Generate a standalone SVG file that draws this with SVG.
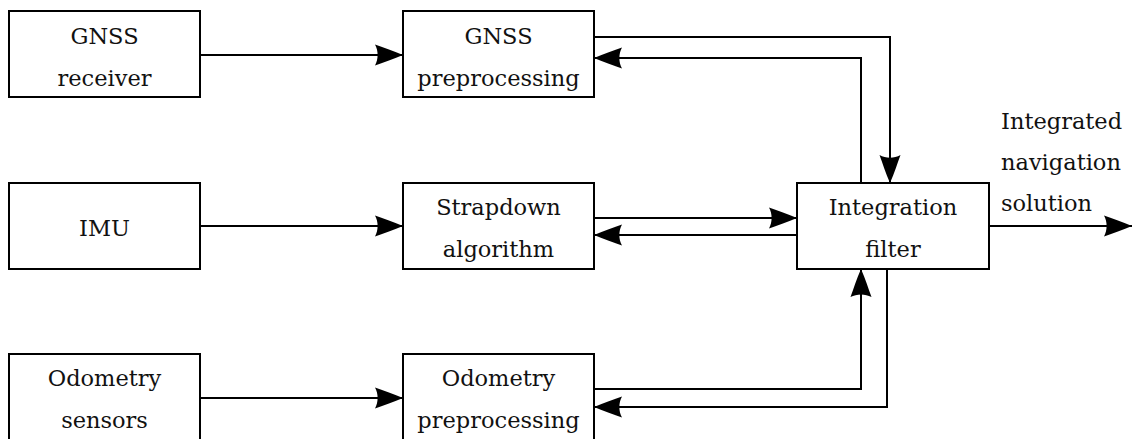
<svg xmlns="http://www.w3.org/2000/svg" width="1132" height="439" viewBox="0 0 1132 439">
<style>
.box{fill:#fff;stroke:#000;stroke-width:2}
.t{font-family:"DejaVu Serif","Liberation Serif",serif;font-size:22.5px;fill:#111;text-anchor:middle}
.ts{font-family:"DejaVu Serif","Liberation Serif",serif;font-size:22.5px;fill:#111}
.c{fill:none;stroke:#000;stroke-width:2}
</style>
<defs>
<marker id="ah" markerUnits="userSpaceOnUse" markerWidth="32" markerHeight="24" viewBox="-30 -12 32 24" refX="0" refY="0" orient="auto">
<path d="M0,0 C-10,-4.5 -20,-7.5 -28,-10.5 C-24.5,-4 -24.5,4 -28,10.5 C-20,7.5 -10,4.5 0,0 Z" fill="#000"/>
</marker>
</defs>
<g id="gnss-receiver"><rect class="box" x="9" y="11" width="191" height="86"/><text class="t" x="104.5" y="44">GNSS</text><text class="t" x="104.5" y="86">receiver</text></g>
<g id="imu"><rect class="box" x="9" y="183" width="191" height="86"/><text class="t" x="104.5" y="236">IMU</text></g>
<g id="odometry-sensors"><rect class="box" x="9" y="354" width="191" height="86"/><text class="t" x="104.5" y="386">Odometry</text><text class="t" x="104.5" y="428">sensors</text></g>
<g id="gnss-preprocessing"><rect class="box" x="403" y="11" width="191" height="86"/><text class="t" x="498.5" y="44">GNSS</text><text class="t" x="498.5" y="86">preprocessing</text></g>
<g id="strapdown"><rect class="box" x="403" y="183" width="191" height="86"/><text class="t" x="498.5" y="215">Strapdown</text><text class="t" x="498.5" y="257">algorithm</text></g>
<g id="odometry-preprocessing"><rect class="box" x="403" y="354" width="191" height="86"/><text class="t" x="498.5" y="386">Odometry</text><text class="t" x="498.5" y="428">preprocessing</text></g>
<g id="integration-filter"><rect class="box" x="797" y="183" width="192" height="86"/><text class="t" x="893" y="215">Integration</text><text class="t" x="893" y="257">filter</text></g>
<g id="output-label"><text class="ts" x="1001" y="129">Integrated</text><text class="ts" x="1001" y="170">navigation</text><text class="ts" x="1001" y="211">solution</text></g>
<g id="connectors">
<path class="c" d="M200,55 H403" marker-end="url(#ah)"/>
<path class="c" d="M200,226 H403" marker-end="url(#ah)"/>
<path class="c" d="M200,398 H403" marker-end="url(#ah)"/>
<path class="c" d="M594,37 H890 V183" marker-end="url(#ah)"/>
<path class="c" d="M861,183 V58 H594" marker-end="url(#ah)"/>
<path class="c" d="M594,218 H797" marker-end="url(#ah)"/>
<path class="c" d="M797,235 H594" marker-end="url(#ah)"/>
<path class="c" d="M594,389 H861 V269" marker-end="url(#ah)"/>
<path class="c" d="M887,269 V407 H594" marker-end="url(#ah)"/>
<path class="c" d="M989,226 H1132" marker-end="url(#ah)"/>
</g>
</svg>
